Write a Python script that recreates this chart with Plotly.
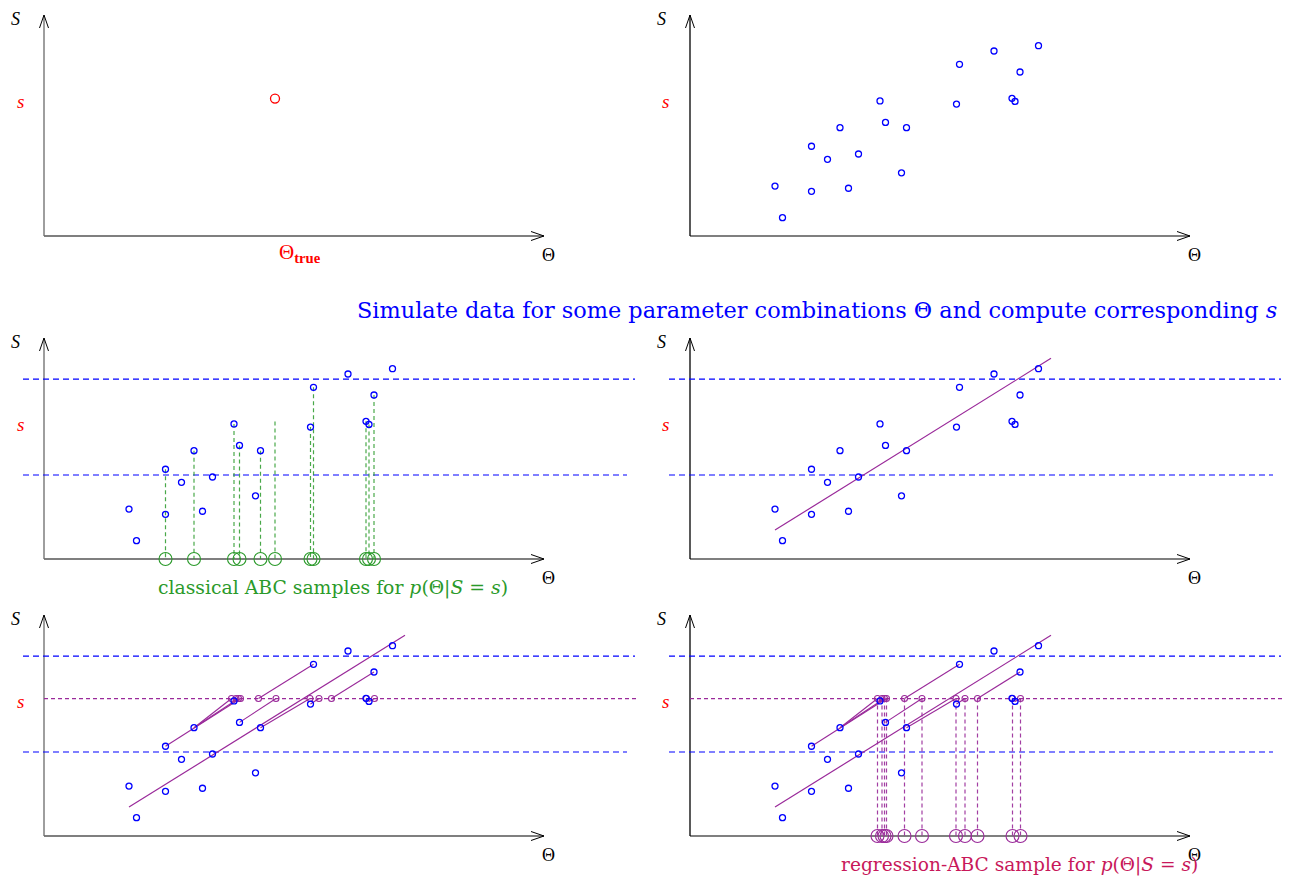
import plotly.graph_objects as go

W, H = 1296, 877

# ---------------- data ----------------
theta = [1.70, 1.85, 2.43, 2.43, 2.75, 3.00, 3.17, 3.37, 3.80, 3.91,
         4.23, 4.33, 5.33, 5.39, 6.08, 6.44, 6.50, 6.60, 6.97]
S_sim = [2.26, 0.83, 4.06, 2.02, 3.47, 4.90, 2.16, 3.71, 6.11, 5.14,
         2.86, 4.90, 5.97, 7.77, 8.37, 6.23, 6.09, 7.42, 8.61]
s_obs = 6.22
theta_true = 4.62
band_lo = 3.80
band_hi = 8.14
# indices of the simulations accepted by classical ABC
classical_idx = [2, 5, 8, 9, 11, 12, 13, 15, 16, 17]
# fitted regression line (end points)
reg_theta = [1.70, 7.22]
reg_S = [1.31, 9.08]
# regression-ABC: source simulation index -> adjusted theta
adj_src = [2, 5, 5, 8, 9, 13, 11, 12, 17, 15, 16]
adj_theta = [3.93, 3.89, 3.75, 3.84, 4.64, 4.29, 5.32, 5.50, 5.75, 6.45, 6.61]

# ---------------- layout constants ----------------
PXU_X, PXU_Y = 50.0, 22.1          # pixels per unit
ORIG = [(44, 236), (690, 236), (44, 559), (690, 559), (44, 836), (690, 836)]
LEFT_PAD, RIGHT_PAD, BOT_PAD, TOP_PAD = 40, 600, 12, 226

BLUE = "#0000ff"
RED = "#ff0000"
GREEN = "#2a9a2a"
PURPLE = "#9a2a9a"
CRIMSON = "#c8185a"
FONT = "DejaVu Serif"
FONT2 = "Liberation Serif"

fig = go.Figure()
layout = dict(width=W, height=H, margin=dict(l=0, r=0, t=0, b=0),
              paper_bgcolor="white", plot_bgcolor="rgba(0,0,0,0)",
              showlegend=False)

def paper(px, py):
    return px / W, 1 - py / H

annotations = []

def text(px, py, s, size, color, family=FONT2, xanchor="center"):
    x, y = paper(px, py)
    annotations.append(dict(x=x, y=y, xref="paper", yref="paper", text=s,
                            xanchor=xanchor, yanchor="middle", showarrow=False,
                            font=dict(family=family, size=size, color=color)))

for k, (ox, oy) in enumerate(ORIG):
    n = k + 1
    xa = "xaxis" if n == 1 else f"xaxis{n}"
    ya = "yaxis" if n == 1 else f"yaxis{n}"
    layout[xa] = dict(domain=[(ox - LEFT_PAD) / W, min(ox + RIGHT_PAD, W) / W],
                      range=[-LEFT_PAD / PXU_X, (min(ox + RIGHT_PAD, W) - ox) / PXU_X],
                      visible=False, anchor=f"y{n}")
    layout[ya] = dict(domain=[(H - (oy + BOT_PAD)) / H, (H - (oy - TOP_PAD)) / H],
                      range=[-BOT_PAD / PXU_Y, TOP_PAD / PXU_Y],
                      visible=False, anchor=f"x{n}")

def add(n, **kw):
    kw.setdefault("showlegend", False)
    kw.setdefault("hoverinfo", "skip")
    fig.add_trace(go.Scatter(xaxis=f"x{n}" if n > 1 else "x",
                             yaxis=f"y{n}" if n > 1 else "y", **kw))

def line(n, xs, ys, color, width=1.0, dash="solid", opacity=1.0):
    add(n, x=xs, y=ys, mode="lines", opacity=opacity,
        line=dict(color=color, width=width, dash=dash))

def axes_arrows(n, ycolor):
    ah_l_x, ah_w_x = 13 / PXU_X, 4.5 / PXU_Y
    ah_l_y, ah_w_y = 13 / PXU_Y, 4.5 / PXU_X
    line(n, [0, 10], [0, 0], "black", 1.2)
    line(n, [10 - ah_l_x, 10, 10 - ah_l_x], [ah_w_x, 0, -ah_w_x], "black", 1.0)
    line(n, [0, 0], [0, 10], ycolor, 1.3)
    line(n, [-ah_w_y, 0, ah_w_y], [10 - ah_l_y, 10, 10 - ah_l_y], "black", 1.0)

def blue_points(n):
    add(n, x=theta, y=S_sim, mode="markers", cliponaxis=False,
        marker=dict(symbol="circle-open", size=6, color=BLUE, line=dict(width=1.3, color=BLUE)))

def band(n):
    line(n, [-0.42, 11.82], [band_hi, band_hi], BLUE, 1.1, "6px,4px")
    line(n, [-0.42, 11.66], [band_lo, band_lo], BLUE, 1.1, "6px,4px")

def labels(ox, oy):
    text(ox - 29, oy - 217, "<i>S</i>", 18, "black")
    text(ox - 24, oy - s_obs * PXU_Y + 3, "<i>s</i>", 19, RED)
    text(ox + 504, oy + 19, "Θ", 18, "black")

# ---- panel 1 ----
ox, oy = ORIG[0]
axes_arrows(1, "#6a6a6a")
add(1, x=[theta_true], y=[s_obs], mode="markers", cliponaxis=False,
    marker=dict(symbol="circle-open", size=9, color=RED, line=dict(width=1.3, color=RED)))
labels(ox, oy)
text(ox + theta_true * PXU_X + 25, oy + 17, "Θ<sub><b>true</b></sub>", 21, RED)

# ---- panel 2 ----
ox, oy = ORIG[1]
axes_arrows(2, "black")
blue_points(2)
labels(ox, oy)

# ---- panel 3: classical ABC ----
ox, oy = ORIG[2]
axes_arrows(3, "#6a6a6a")
band(3)
acc_theta = [theta[i] for i in classical_idx] + [theta_true]
acc_S = [S_sim[i] for i in classical_idx] + [s_obs]
for t, sv in zip(acc_theta, acc_S):
    line(3, [t, t], [sv, 0], GREEN, 1.2, "4px,3px", 0.85)
add(3, x=acc_theta, y=[0] * len(acc_theta), mode="markers", cliponaxis=False,
    marker=dict(symbol="circle-open", size=13, color=GREEN, line=dict(width=1.1, color=GREEN)))
blue_points(3)
labels(ox, oy)
text(333, 588, "classical ABC samples for <i>p</i>(Θ|<i>S</i> = <i>s</i>)", 18.8, GREEN, FONT)

# ---- panel 4: regression ----
ox, oy = ORIG[3]
axes_arrows(4, "black")
band(4)
line(4, reg_theta, reg_S, PURPLE, 1.2)
blue_points(4)
labels(ox, oy)

# ---- panels 5 & 6: regression adjustment ----
for n in (5, 6):
    ox, oy = ORIG[n - 1]
    axes_arrows(n, "#6a6a6a" if n == 5 else "black")
    band(n)
    line(n, [0, 11.9], [s_obs, s_obs], PURPLE, 1.2, "4px,3px")
    line(n, reg_theta, reg_S, PURPLE, 1.2)
    for src, t in zip(adj_src, adj_theta):
        line(n, [theta[src], t], [S_sim[src], s_obs], PURPLE, 1.1)
    if n == 6:
        for t in adj_theta:
            line(n, [t, t], [s_obs, 0], PURPLE, 1.2, "4px,3px", 0.9)
        add(n, x=adj_theta, y=[0] * len(adj_theta), mode="markers", cliponaxis=False,
            marker=dict(symbol="circle-open", size=13, color=PURPLE, line=dict(width=1.1, color=PURPLE)))
    add(n, x=adj_theta, y=[s_obs] * len(adj_theta), mode="markers", cliponaxis=False,
        marker=dict(symbol="circle-open", size=6, color=PURPLE, line=dict(width=1.1, color=PURPLE)))
    blue_points(n)
    labels(ox, oy)

text(1019, 865, "regression-ABC sample for <i>p</i>(Θ|<i>S</i> = <i>s</i>)", 18.6, CRIMSON, FONT)
text(355, 310, "Simulate data for some parameter combinations Θ and compute corresponding <i>s</i>",
     22.4, BLUE, FONT, xanchor="left")

layout["annotations"] = annotations
fig.update_layout(**layout)
fig.write_html("out.html", config={"displayModeBar": False},
               post_script="document.body.style.margin='0';")
